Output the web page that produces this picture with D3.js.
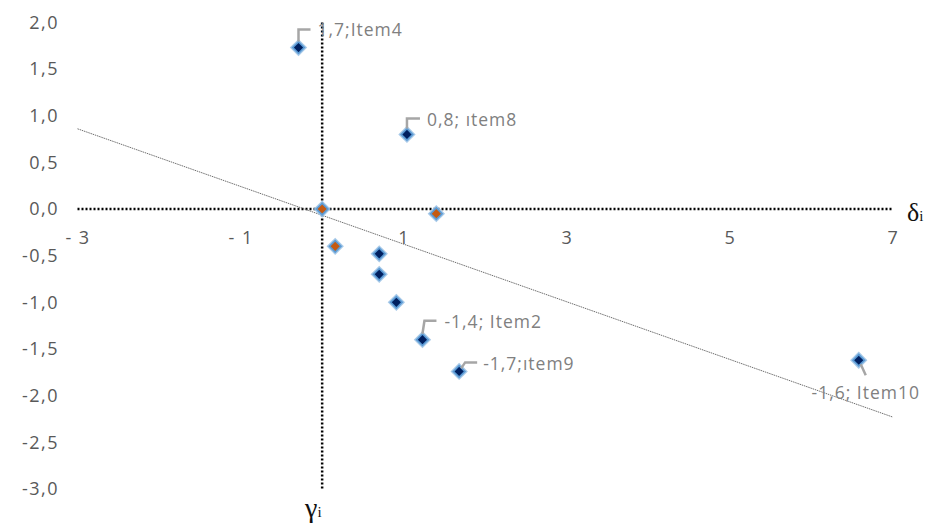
<!DOCTYPE html>
<html><head><meta charset="utf-8">
<script src="https://cdn.jsdelivr.net/npm/d3@7"></script>
<style>body{margin:0;background:#fff}svg{display:block}</style>
</head><body>
<svg id="c" width="930" height="525"></svg>
<script>
// ---- data ----
const blueX = [-0.29, 1.04, 0.70, 0.70, 0.91, 1.23, 1.68, 6.58];
const blueY = [1.73, 0.80, -0.48, -0.70, -1.00, -1.40, -1.74, -1.62];
const blueLabels = ["1,7;Item4", "0,8; ıtem8", "", "", "", "-1,4; Item2", "-1,7;ıtem9", "-1,6; Item10"];
const orangeX = [0.00, 1.40, 0.16];
const orangeY = [0.00, -0.05, -0.40];
const trendX = [-3, 7];
const trendY = [0.86, -2.23];
const xTicks = [-3, -1, 1, 3, 5, 7];
const yTicks = [2, 1.5, 1, 0.5, 0, -0.5, -1, -1.5, -2, -2.5, -3];

// ---- layout (label leader offsets, px) ----
const labelLayout = {
  "1,7;Item4":   {pts:[[0,-6],[0,-18],[12,-18]], tx:19, ty:-18, anchor:"start"},
  "0,8; ıtem8":  {pts:[[0,-6],[0,-16],[13,-16]], tx:20, ty:-15, anchor:"start"},
  "-1,4; Item2": {pts:[[0,-6],[2,-19],[14,-19]], tx:22, ty:-18, anchor:"start"},
  "-1,7;ıtem9":  {pts:[[2,-3],[6,-9],[18,-9]],  tx:24, ty:-8,  anchor:"start"},
  "-1,6; Item10":{pts:[[2,4],[7,15]],           tx:7,  ty:33,  anchor:"middle"}
};

const svg = d3.select("#c");
const x = d3.scaleLinear().domain([-3, 7]).range([77.5, 893]);
const y = d3.scaleLinear().domain([-3, 2]).range([489, 22.4]);
const gray = "#595959";
const fmtY = d => (d < 0 ? "-" : "") + Math.abs(d).toFixed(1).replace(".", ",");
const fmtX = d => (d < 0 ? "- " + Math.abs(d) : String(d));

// y axis labels
const ya = svg.append("g").attr("transform", "translate(59,0)")
  .call(d3.axisLeft(y).tickValues(yTicks).tickFormat(fmtY).tickSize(0).tickPadding(0));
ya.select(".domain").remove();
ya.selectAll("text").attr("fill", gray).style("font-family", "'Open Sans', sans-serif")
  .style("font-size", "18px").style("letter-spacing", "1.5px");

// x axis labels
const xa = svg.append("g").attr("transform", `translate(0,${y(0)})`)
  .call(d3.axisBottom(x).tickValues(xTicks).tickFormat(fmtX).tickSize(0).tickPadding(22));
xa.select(".domain").remove();
xa.selectAll("text").attr("fill", gray).style("font-family", "'Open Sans', sans-serif")
  .style("font-size", "18px").style("letter-spacing", "1.5px");

// dotted axes
svg.append("line").attr("x1", x(-3)).attr("x2", x(7)).attr("y1", y(0)).attr("y2", y(0))
  .attr("stroke", "#000").attr("stroke-width", 2.5).attr("stroke-dasharray", "2,2");
svg.append("line").attr("x1", x(0)).attr("x2", x(0)).attr("y1", y(2)).attr("y2", y(-3))
  .attr("stroke", "#000").attr("stroke-width", 2.5).attr("stroke-dasharray", "2,2");

// trend line
svg.append("line").attr("x1", x(trendX[0])).attr("y1", y(trendY[0]))
  .attr("x2", x(trendX[1])).attr("y2", y(trendY[1]))
  .attr("stroke", "#6f6f6f").attr("stroke-width", 1).attr("stroke-dasharray", "1.5,0.8");

// axis symbols
const sym = svg.append("g").style("font-family", "'Liberation Serif', 'DejaVu Serif', serif").attr("fill", "#111");
const dl = sym.append("text").attr("x", 907).attr("y", 221).style("font-size", "26px");
dl.append("tspan").text("δ");
dl.append("tspan").text("i").style("font-size", "15px");
const gl = sym.append("text").attr("x", 305).attr("y", 517).style("font-size", "28px");
gl.append("tspan").text("γ");
gl.append("tspan").text("i").style("font-size", "15px");

// points
function drawSeries(xs, ys, fill) {
  const g = svg.append("g");
  xs.forEach((v, i) => {
    const px = x(v), py = y(ys[i]);
    g.append("path").attr("d", d3.symbol().type(d3.symbolSquare).size(150)())
      .attr("transform", `translate(${px},${py}) rotate(45)`)
      .attr("fill", "#9dc3e6").attr("opacity", 0.9);
    g.append("path").attr("d", d3.symbol().type(d3.symbolSquare).size(95)())
      .attr("transform", `translate(${px},${py}) rotate(45)`)
      .attr("fill", "#5b9bd5");
    g.append("path").attr("d", d3.symbol().type(d3.symbolSquare).size(42)())
      .attr("transform", `translate(${px},${py}) rotate(45)`)
      .attr("fill", fill);
  });
}
drawSeries(orangeX, orangeY, "#c55a11");
drawSeries(blueX, blueY, "#002060");

// labels
const lg = svg.append("g");
blueLabels.forEach((lab, i) => {
  if (!lab) return;
  const L = labelLayout[lab];
  const px = x(blueX[i]), py = y(blueY[i]);
  lg.append("polyline").attr("points", L.pts.map(p => [px + p[0], py + p[1]].join(",")).join(" "))
    .attr("fill", "none").attr("stroke", "#a6a6a6").attr("stroke-width", 2.5);
  lg.append("text").attr("x", px + L.tx).attr("y", py + L.ty).attr("dy", "0.35em")
    .attr("text-anchor", L.anchor).attr("fill", "#808080")
    .style("font-family", "'Open Sans', sans-serif").style("font-size", "17.5px")
    .style("letter-spacing", "1px").text(lab);
});
</script>
</body></html>
